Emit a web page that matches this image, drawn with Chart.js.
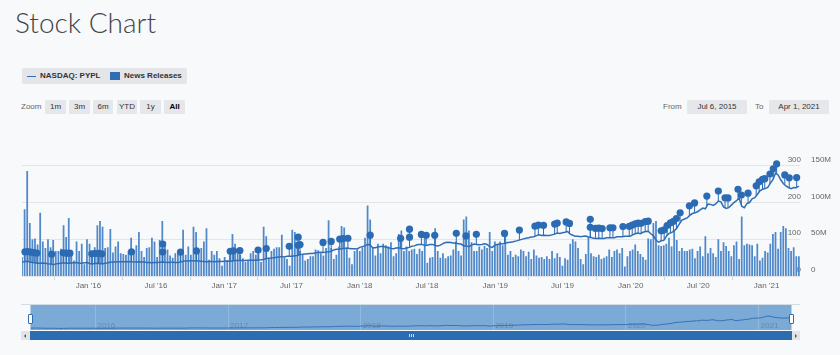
<!DOCTYPE html>
<html>
<head>
<meta charset="UTF-8">
<title>Stock Chart</title>
<script src="https://cdn.jsdelivr.net/npm/chart.js@4.4.1/dist/chart.umd.min.js"></script>
<style>
  body { margin: 0; background: #f8f9fb; font-family: "Liberation Sans", Arial, sans-serif; }
  #wrap { position: relative; width: 840px; height: 355px; overflow: hidden; }
  h1 { position: absolute; left: 15px; top: 5px; margin: 0; font: 300 28px Lato, "Open Sans", sans-serif; color: #444; }
  .legend { position: absolute; left: 22px; top: 68px; width: 165px; height: 16px; background: #e4e5e8; border-radius: 2px; font: bold 8px "Liberation Sans", Arial, sans-serif; color: #333; line-height: 16px; }
  .legend span { position: absolute; }
  .btn { position: absolute; top: 100px; height: 14px; line-height: 14px; background: #e6e7ea; font-size: 8px; color: #333; text-align: center; border-radius: 1px; }
  .lbl { position: absolute; top: 100px; line-height: 14px; font-size: 8px; color: #666; }
  canvas { position: absolute; left: 0; }
  .nav { position: absolute; }
</style>
</head>
<body>
<div id="wrap">
  <h1>Stock Chart</h1>

  <div class="legend">
    <span style="left:5px;top:7.5px;width:9px;height:1.5px;background:#2f6db5"></span>
    <span style="left:18px">NASDAQ: PYPL</span>
    <span style="left:88px;top:4px;width:10px;height:8px;background:#2f6db5"></span>
    <span style="left:102px">News Releases</span>
  </div>

  <div class="lbl" style="left:21px">Zoom</div>
  <div class="btn" style="left:45px;width:21px">1m</div>
  <div class="btn" style="left:69px;width:21px">3m</div>
  <div class="btn" style="left:93px;width:20px">6m</div>
  <div class="btn" style="left:117px;width:20px">YTD</div>
  <div class="btn" style="left:140px;width:21px">1y</div>
  <div class="btn" style="left:164px;width:21px;font-weight:bold;color:#000">All</div>

  <div class="lbl" style="left:663px">From</div>
  <div class="btn" id="fromBox" style="left:687px;width:60px"></div>
  <div class="lbl" style="left:755px">To</div>
  <div class="btn" id="toBox" style="left:769px;width:60px"></div>

  <canvas id="main" width="840" height="150" style="top:150px"></canvas>
  <canvas id="navigator" width="840" height="45" style="top:300px"></canvas>

  <!-- navigator chrome -->
  <div class="nav" style="left:21px;top:304px;width:779px;height:1px;background:#d5dbe3"></div>
  <div class="nav" style="left:21px;top:331px;width:779px;height:9px;background:#e3e4e7"></div>
  <div class="nav" style="left:29.5px;top:331px;width:762px;height:9px;background:#2c6db2"></div>
  <div class="nav" style="left:23.5px;top:333.5px;width:0;height:0;border-top:2px solid transparent;border-bottom:2px solid transparent;border-right:2px solid #555"></div>
  <div class="nav" style="left:795px;top:333.5px;width:0;height:0;border-top:2px solid transparent;border-bottom:2px solid transparent;border-left:2px solid #555"></div>
  <div class="nav" style="left:409px;top:334px;width:1px;height:3px;background:#cfdcee"></div>
  <div class="nav" style="left:411px;top:334px;width:1px;height:3px;background:#cfdcee"></div>
  <div class="nav" style="left:413px;top:334px;width:1px;height:3px;background:#cfdcee"></div>
  <div class="nav" style="left:27.5px;top:313.5px;width:3px;height:8px;background:#fff;border:1px solid #2c6db2;border-radius:1px"></div>
  <div class="nav" style="left:788.5px;top:313.5px;width:3px;height:8px;background:#fff;border:1px solid #2c6db2;border-radius:1px"></div>
</div>

<script>
// weekly data, first week starts Jul 6, 2015
const firstWeek = '2015-07-06';
const rangeEnd = '2021-04-01';
const fromLabel = 'Jul 6, 2015';
const toLabel = 'Apr 1, 2021';

// weekly close, USD
const weeklyClose = [
  38, 38.5, 40, 38, 37, 36, 35, 35, 35.5, 35, 33.5, 33, 31, 33, 34, 35, 36, 35, 34.5, 35.5, 36, 36.5, 35, 35, 36, 36.5,
  34, 33, 34, 35, 34, 33, 35, 36, 37.5, 38, 38, 38.5, 38.5, 39, 39, 39.5, 38.5, 38, 38, 38.5, 38, 38, 37, 36.5, 36, 36.5,
  37, 37.5, 38, 37.5, 37, 37.5, 37.5, 37, 37, 38, 40, 40.5, 41, 41.5, 41.5, 41, 41, 40, 39.5, 39, 39.5, 39.5, 39, 39.5, 40, 39.5,
  40, 40.5, 40, 41, 42, 42.5, 42, 42.5, 42.5, 43, 43, 43, 43, 43.5, 44, 45, 47.5, 48, 49, 49.5, 51, 52, 53, 52, 53.5, 53.5,
  54, 55, 56, 58.5, 59, 60, 60.5, 61, 61.5, 63, 64, 64.5, 64, 65, 66, 67, 71, 72.5, 73, 74, 75, 76, 75, 74, 74.5, 73.5,
  78, 80, 82, 86, 84, 77, 77, 79, 80, 80, 79, 77, 75, 74, 76, 77, 75, 74.5, 76, 78, 81, 82, 85, 86, 86, 83,
  84, 86, 86, 83, 82, 84, 88, 91, 92, 91, 90, 89, 88, 87, 82, 82, 80, 84, 87, 86, 85, 86, 88, 86, 80, 78, 84,
  86, 87, 88, 89, 91, 92, 93, 95, 97, 99, 101, 103, 104, 106, 107, 110, 112, 110, 111, 110, 110, 112, 114, 117, 116,
  118, 119, 121, 114, 111, 108, 108, 107, 108, 109, 106, 105, 103, 102, 103, 102, 102, 104, 104, 104, 104, 107, 107, 107, 108, 108, 108,
  112, 115, 117, 115, 119, 121, 122, 115, 110, 98, 92, 96, 97, 108, 116, 118, 123, 130, 142, 152, 155, 158, 165, 170, 172, 175,
  180, 185, 183, 196, 195, 192, 196, 204, 202, 188, 184, 186, 193, 200, 205, 212, 190, 186, 197, 200, 210, 213, 222, 232, 236, 238,
  241, 252, 262, 280, 275, 262, 252, 245, 241, 238, 241, 240, 245
];

// weekly volume, millions of shares
const weeklyVolumeM = [
  26, 91, 143, 72, 50, 51, 43, 86, 47, 38, 50, 39, 49, 34, 34, 37, 69, 53, 79, 29,
  21, 47, 34, 44, 16, 50, 44, 34, 39, 69, 75, 67, 38, 39, 64, 32, 40, 47, 31, 30,
  29, 34, 52, 34, 42, 60, 34, 26, 38, 39, 52, 47, 26, 49, 75, 47, 36, 28, 25, 31,
  34, 34, 63, 29, 40, 29, 67, 60, 33, 38, 47, 65, 22, 34, 29, 34, 24,
  14, 26, 21, 34, 57, 44, 31, 29, 24, 19, 21, 31, 34, 29, 31, 19, 67, 54, 25, 34,
  37, 39, 39, 56, 25, 23, 14, 63, 60, 44, 34, 29, 21, 23, 27, 27, 36, 35, 31, 28,
  38, 76, 38, 23, 29, 40, 68, 66, 38, 25, 16, 34, 36, 34, 39, 52, 96, 77, 38, 28,
  44, 31, 44, 42, 40, 46, 27, 31, 57, 62, 34, 40, 34, 36, 37, 30,
  37, 34, 53, 18, 25, 26, 65, 34, 25, 31, 24, 27, 28, 36, 47, 34, 28, 77, 81, 62,
  46, 34, 34, 40, 36, 41, 38, 60, 34, 47, 44, 47, 42, 61, 29, 34, 26, 29, 27, 36,
  34, 27, 33, 23, 36, 28, 25, 26, 23, 27, 23, 34, 24, 31, 26, 14, 24, 22, 44, 50,
  47, 38, 23, 16, 30, 53, 31, 27, 26, 29, 23, 25, 27, 36, 26, 34,
  36, 31, 38, 13, 27, 34, 36, 43, 34, 30, 26, 22, 51, 50, 72, 75, 42, 41, 42, 44,
  52, 40, 63, 49, 34, 38, 34, 34, 36, 37, 24, 34, 40, 27, 54, 31, 38, 31, 26, 50,
  34, 46, 41, 34, 27, 42, 47, 23, 81, 42, 44, 43, 42, 27, 44, 21, 25, 34, 32, 44,
  57, 60, 37, 60, 68, 65, 38, 34, 39, 27, 27
];

// news release flags (repeated date = stacked flag)
const newsDates = [
  '2015-07-14', '2015-07-22', '2015-07-30', '2015-08-07', '2015-08-15', '2015-09-24',
  '2015-10-25', '2015-11-03', '2015-11-12', '2016-01-10', '2016-01-18', '2016-01-28', '2016-02-06',
  '2016-04-26', '2016-07-19', '2016-07-19', '2016-09-05', '2016-10-18',
  '2017-01-17', '2017-01-26', '2017-02-12', '2017-04-02', '2017-04-24', '2017-06-25',
  '2017-07-19', '2017-07-19', '2017-07-24', '2017-09-24', '2017-10-16', '2017-11-08', '2017-11-17', '2017-11-30',
  '2018-01-29', '2018-04-21', '2018-05-15', '2018-05-15', '2018-06-16', '2018-06-29', '2018-07-22',
  '2018-09-18', '2018-10-14', '2018-11-11',
  '2019-01-26', '2019-03-07', '2019-04-18', '2019-04-27', '2019-05-11', '2019-06-10', '2019-06-17',
  '2019-07-11', '2019-07-20', '2019-09-14', '2019-09-14', '2019-09-28', '2019-10-07', '2019-10-16',
  '2019-11-06', '2019-11-14', '2019-12-11', '2019-12-28',
  '2020-01-05', '2020-01-13', '2020-01-21', '2020-01-29', '2020-02-09', '2020-02-17',
  '2020-03-23', '2020-03-31', '2020-04-08', '2020-04-17', '2020-04-25', '2020-05-03', '2020-05-13',
  '2020-06-07', '2020-06-21', '2020-07-24', '2020-08-24', '2020-09-11', '2020-09-19',
  '2020-10-16', '2020-10-25', '2020-11-12', '2020-12-04', '2020-12-12', '2020-12-21', '2020-12-27',
  '2021-01-10', '2021-01-19', '2021-01-28', '2021-02-19', '2021-03-03', '2021-03-23'
];

const xTickDates = ['2016-01-01', '2016-07-01', '2017-01-01', '2017-07-01', '2018-01-01', '2018-07-01',
                    '2019-01-01', '2019-07-01', '2020-01-01', '2020-07-01', '2021-01-01'];
const xTickLabels = ["Jan '16", "Jul '16", "Jan '17", "Jul '17", "Jan '18", "Jul '18",
                     "Jan '19", "Jul '19", "Jan '20", "Jul '20", "Jan '21"];
const priceTicks = [0, 100, 200, 300];
const volumeTicksM = [0, 50, 100, 150];
const volumeTickLabels = ['0', '50M', '100M', '150M'];
const navYearDates = ['2016-01-01', '2017-01-01', '2018-01-01', '2019-01-01', '2020-01-01', '2021-01-01'];
const navYearLabels = ['2016', '2017', '2018', '2019', '2020', '2021'];

const WEEK = 7 * 86400000;
const t0 = Date.parse(firstWeek);
const tEnd = Date.parse(rangeEnd);
const weekTimes = weeklyClose.map((_, i) => t0 + i * WEEK);

document.getElementById('fromBox').textContent = fromLabel;
document.getElementById('toBox').textContent = toLabel;

function priceAt(t) {
  const f = (t - t0) / WEEK;
  const i = Math.max(0, Math.min(weeklyClose.length - 2, Math.floor(f)));
  const r = Math.max(0, Math.min(1, f - i));
  return weeklyClose[i] + (weeklyClose[i + 1] - weeklyClose[i]) * r;
}

const flagPins = {
  id: 'flagPins',
  afterDatasetsDraw(chart) {
    const {ctx, scales} = chart;
    const seen = {};
    ctx.save();
    ctx.fillStyle = '#2b6bb3';
    ctx.strokeStyle = '#2b6bb3';
    ctx.lineWidth = 1;
    newsDates.forEach(d => {
      const k = seen[d] = (seen[d] || 0) + 1;
      const t = Date.parse(d);
      const px = scales.x.getPixelForValue(t);
      const py = scales.yPrice.getPixelForValue(priceAt(t));
      const cy = py - 10 - (k - 1) * 8;
      ctx.beginPath();
      ctx.moveTo(px, py);
      ctx.lineTo(px, cy);
      ctx.stroke();
      ctx.beginPath();
      ctx.arc(px, cy, 3.6, 0, Math.PI * 2);
      ctx.fill();
    });
    ctx.restore();
  }
};

const axisFont = { family: '"Liberation Sans", Arial, sans-serif', size: 8 };

new Chart(document.getElementById('main'), {
  type: 'bar',
  data: {
    datasets: [{
      type: 'line',
      label: 'NASDAQ: PYPL',
      data: weekTimes.map((t, i) => ({ x: t, y: weeklyClose[i] })),
      yAxisID: 'yPrice',
      borderColor: '#2f6db5',
      borderWidth: 1.5,
      pointRadius: 0,
      tension: 0,
      order: 0
    }, {
      type: 'bar',
      label: 'Volume',
      data: weekTimes.map((t, i) => ({ x: t, y: weeklyVolumeM[i] * 1e6 })),
      yAxisID: 'yVol',
      backgroundColor: '#5089c9',
      barPercentage: 0.68,
      categoryPercentage: 1,
      order: 1
    }]
  },
  options: {
    responsive: false,
    animation: false,
    layout: { padding: { left: 22, top: 11, right: 0, bottom: 0 } },
    plugins: { legend: { display: false }, tooltip: { enabled: false } },
    scales: {
      x: {
        type: 'linear',
        min: t0,
        max: tEnd,
        offset: false,
        afterBuildTicks: s => { s.ticks = xTickDates.map(d => ({ value: Date.parse(d) })); },
        afterFit: s => { s.height = 24; },
        ticks: { autoSkip: false, maxRotation: 0, padding: 1, color: '#666', font: axisFont,
                 callback: (v, i) => xTickLabels[i] },
        grid: { drawOnChartArea: false, drawTicks: true, tickLength: 4, color: '#ccd6eb' },
        border: { display: false }
      },
      yPrice: {
        position: 'right',
        weight: 0,
        min: 0,
        max: 300,
        afterBuildTicks: s => { s.ticks = priceTicks.map(v => ({ value: v })); },
        afterFit: s => { s.width = 0; },
        ticks: { mirror: true, padding: 1, labelOffset: -6, color: '#666', font: axisFont },
        grid: { color: '#e3e5e8', drawTicks: false },
        border: { display: false }
      },
      yVol: {
        position: 'right',
        weight: 1,
        min: 0,
        max: 150e6,
        afterBuildTicks: s => { s.ticks = volumeTicksM.map(v => ({ value: v * 1e6 })); },
        afterFit: s => { s.width = 40; },
        ticks: { padding: 11, labelOffset: -6, color: '#666', font: axisFont,
                 callback: (v, i) => volumeTickLabels[i] },
        grid: { display: false, drawTicks: false },
        border: { display: false }
      }
    }
  },
  plugins: [flagPins]
});

// navigator: selected-range mask, then the year labels of the x scale inside the area
const navMask = {
  id: 'navMask',
  beforeDraw(chart) {
    const {ctx, chartArea: a, scales} = chart;
    const x1 = scales.x.getPixelForValue(t0);
    const x2 = scales.x.getPixelForValue(tEnd);
    ctx.save();
    ctx.fillStyle = 'rgba(40,116,190,0.6)';
    ctx.fillRect(x1, a.top, x2 - x1, a.bottom - a.top);
    ctx.restore();
  },
  beforeDatasetsDraw(chart) {
    const {ctx, chartArea: a, scales} = chart;
    ctx.save();
    ctx.font = '8px "Liberation Sans", Arial, sans-serif';
    ctx.fillStyle = 'rgba(105,118,138,0.7)';
    ctx.textAlign = 'left';
    ctx.textBaseline = 'bottom';
    scales.x.ticks.forEach(tk => {
      ctx.fillText(tk.label, scales.x.getPixelForValue(tk.value) + 2, a.bottom - 0.5);
    });
    ctx.restore();
  }
};

new Chart(document.getElementById('navigator'), {
  type: 'line',
  data: {
    datasets: [{
      data: weekTimes.map((t, i) => ({ x: t, y: weeklyClose[i] })),
      borderColor: '#3571b4',
      borderWidth: 1,
      pointRadius: 0,
      tension: 0
    }]
  },
  options: {
    responsive: false,
    animation: false,
    layout: { padding: { left: 30.5, right: 48.5, top: 5, bottom: 15 } },
    plugins: { legend: { display: false }, tooltip: { enabled: false } },
    scales: {
      x: {
        type: 'linear',
        min: t0,
        max: tEnd,
        afterBuildTicks: s => { s.ticks = navYearDates.map(d => ({ value: Date.parse(d) })); },
        afterFit: s => { s.height = 0; },
        ticks: { display: false, autoSkip: false, callback: (v, i) => navYearLabels[i] },
        grid: { drawTicks: false, color: 'rgba(255,255,255,0.18)' },
        border: { display: false }
      },
      y: { display: false, grace: '4%' }
    }
  },
  plugins: [navMask]
});
</script>
</body>
</html>
